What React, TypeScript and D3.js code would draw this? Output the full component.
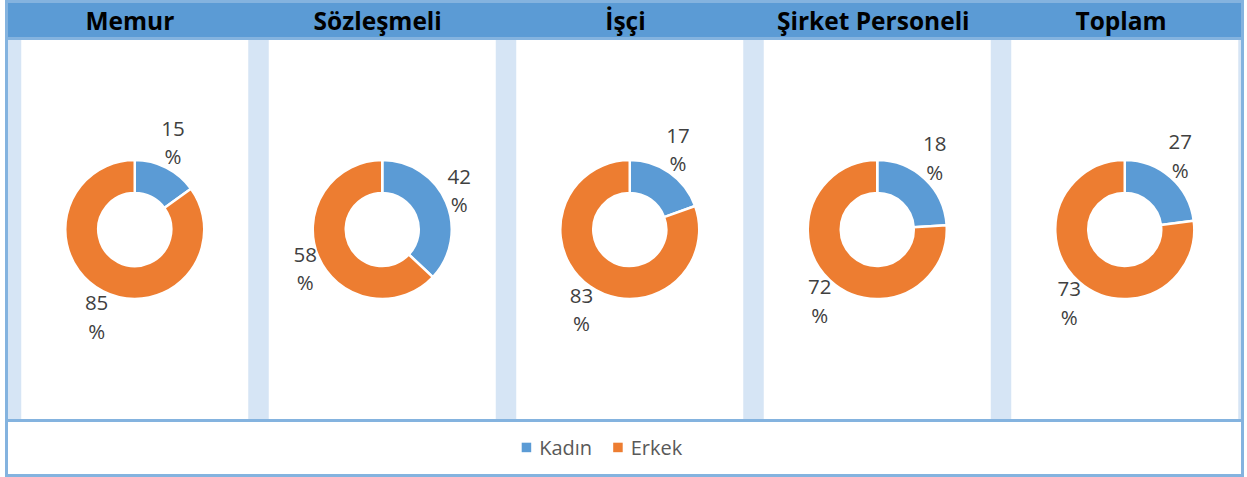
import React from 'react';
import * as d3 from 'd3';

const kategoriler = ['Memur', 'Sözleşmeli', 'İşçi', 'Şirket Personeli', 'Toplam'];
// dilim büyüklükleri, resimdeki açılardan okunan
const kadinPay = [15, 37, 19.5, 24, 23];
const erkekPay = [85, 63, 80.5, 76, 77];
// grafikte yazan veri etiketleri
const kadinEtiket = ['15', '42', '17', '18', '27'];
const erkekEtiket = ['85', '58', '83', '72', '73'];
const seriler = ['Kadın', 'Erkek'];
const renkler = ['#5b9bd5', '#ed7d31'];

const W = 1247;
const H = 477;
const cerceve = '#84b3df';
const seritRenk = '#d6e5f5';

const App: React.FC = () => {
    const panelX = d3.scaleBand<string>().domain(kategoriler).range([11, 1248.5]).padding(0);
    const baslikX = d3.scaleBand<string>().domain(kategoriler).range([5, 1244]).padding(0);
    const renk = d3.scaleOrdinal<string, string>().domain(seriler).range(renkler);

    const pie = d3.pie<number>().sort(null).value(d => d);
    const arc = d3.arc<d3.PieArcDatum<number>>().innerRadius(36.5).outerRadius(69.5);

    const cy = 229.5;
    const rx = 84;
    const ry = 98;
    const panelW = panelX.step() - 20.5;

    return (
        <svg width={W} height={H} style={{ position: 'absolute', left: 0, top: 0 }}
            fontFamily="'Open Sans', sans-serif">
            <rect x={0} y={0} width={W} height={H} fill="#fff" />
            {/* panel arka planı */}
            <rect x={8} y={40} width={1233} height={379} fill={seritRenk} />
            {kategoriler.map(k => {
                const cx = panelX(k)! + panelX.bandwidth() / 2;
                const x0 = Math.max(21, cx - panelW / 2);
                const x1 = Math.min(1239, cx + panelW / 2);
                return <rect key={k} x={x0} y={40} width={x1 - x0} height={379} fill="#fff" />;
            })}
            {/* başlık şeridi */}
            <rect x={8} y={3} width={1233} height={34} fill="#5b9bd5" />
            <rect x={8} y={37} width={1233} height={3} fill={cerceve} />
            {kategoriler.map(k => (
                <text key={k} x={baslikX(k)! + baslikX.bandwidth() / 2 + 1} y={29.5}
                    textAnchor="middle" fontWeight={700} fontSize={24.5} fill="#000">{k}</text>
            ))}
            {/* halkalar */}
            {kategoriler.map((k, i) => {
                const cx = panelX(k)! + panelX.bandwidth() / 2;
                const dilimler = pie([kadinPay[i], erkekPay[i]]);
                const etiketler = [kadinEtiket[i], erkekEtiket[i]];
                return (
                    <g key={k} transform={`translate(${cx},${cy})`}>
                        {dilimler.map((d, j) => (
                            <path key={j} d={arc(d) || ''} fill={renk(seriler[j])}
                                stroke="#fff" strokeWidth={2.5} strokeLinejoin="round" />
                        ))}
                        {dilimler.map((d, j) => {
                            const a = (d.startAngle + d.endAngle) / 2;
                            const lx = Math.sin(a) * rx;
                            const ly = -Math.cos(a) * ry;
                            return (
                                <text key={'t' + j} textAnchor="middle" fontSize={20.5} fill="#404040">
                                    <tspan x={lx} y={ly - 6.6}>{etiketler[j]}</tspan>
                                    <tspan x={lx} y={ly + 21.7}>%</tspan>
                                </text>
                            );
                        })}
                    </g>
                );
            })}
            {/* lejant */}
            <rect x={8} y={419} width={1233} height={3} fill={cerceve} />
            {seriler.map((s, i) => {
                const x = 521.7 + i * 91.5;
                return (
                    <g key={s}>
                        <rect x={x} y={442.7} width={9.5} height={9.5} fill={renk(s)} />
                        <text x={x + 17.5} y={455} fontSize={20} fill="#595959">{s}</text>
                    </g>
                );
            })}
            {/* dış çerçeve */}
            <rect x={6.5} y={1.5} width={1236} height={474} fill="none" stroke={cerceve} strokeWidth={3} />
        </svg>
    );
};

export default App;
